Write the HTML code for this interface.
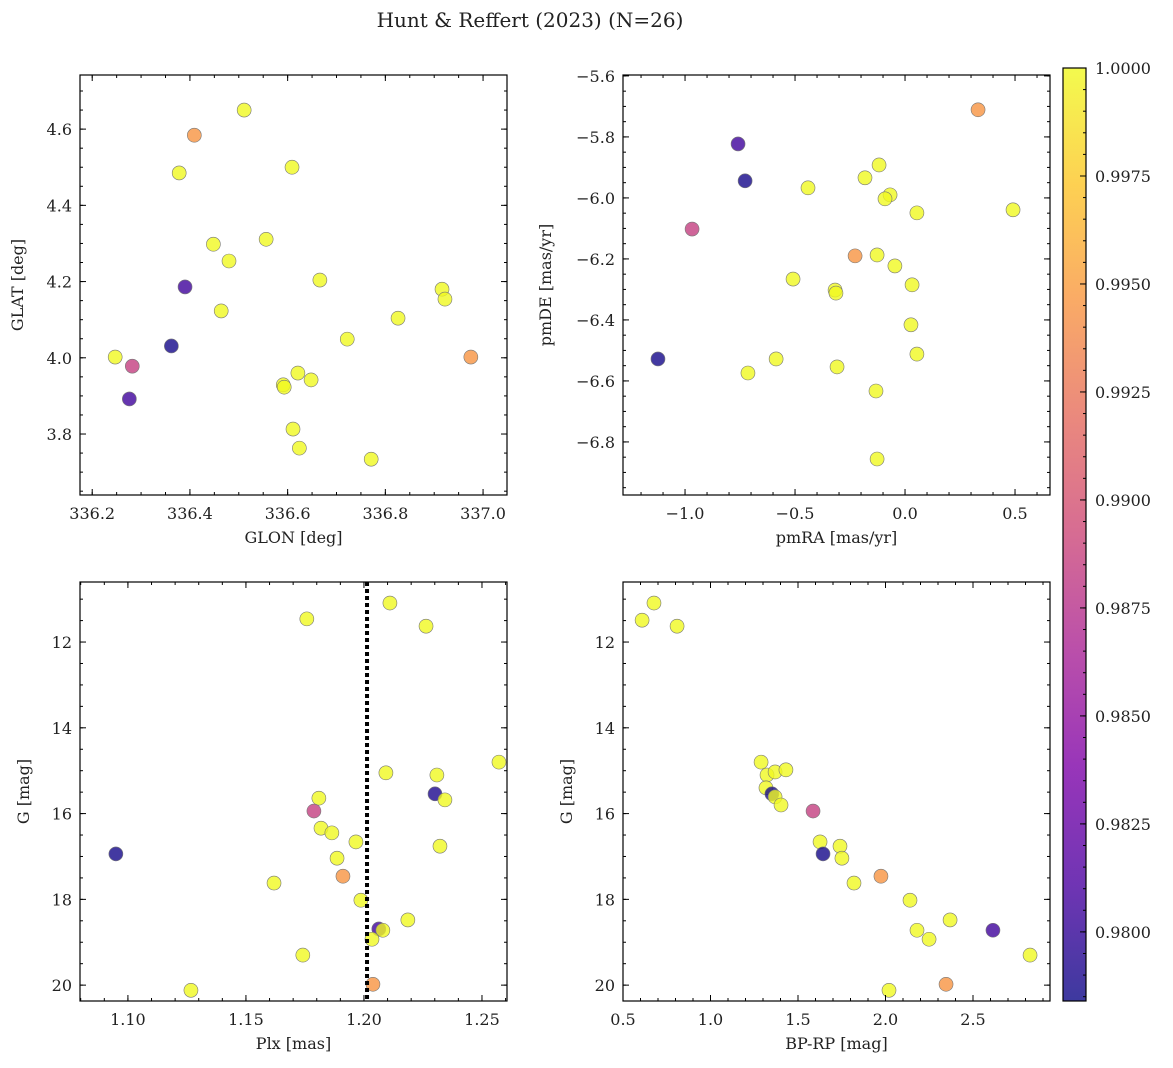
<!DOCTYPE html>
<html><head><meta charset="utf-8">
<style>
html,body{margin:0;padding:0;background:#fff;}
svg{display:block;font-family:"DejaVu Serif","Liberation Serif",serif;}
</style></head>
<body>
<svg id="fig" width="1173" height="1068" viewBox="0 0 1173 1068">
<text x="530" y="27" text-anchor="middle" font-size="20" fill="#222">Hunt &amp; Reffert (2023) (N=26)</text>
<defs>
<linearGradient id="plasma" x1="0" y1="1" x2="0" y2="0">
<stop offset="0" stop-color="#0d0887"/><stop offset="0.125" stop-color="#4c02a1"/><stop offset="0.25" stop-color="#7e03a8"/><stop offset="0.375" stop-color="#a92395"/><stop offset="0.5" stop-color="#cc4778"/><stop offset="0.625" stop-color="#e56b5d"/><stop offset="0.75" stop-color="#f89540"/><stop offset="0.875" stop-color="#fdc527"/><stop offset="1" stop-color="#f0f921"/>
</linearGradient>
</defs>
</svg>
<script>
// ---- data ----
const p1_glon=[336.511,336.409,336.378,336.609,336.448,336.480,336.556,336.390,336.666,336.464,336.916,336.922,336.826,336.722,336.362,336.247,336.975,336.282,336.621,336.591,336.593,336.648,336.276,336.611,336.624,336.771];
const p1_glat=[4.650,4.584,4.485,4.500,4.298,4.254,4.311,4.186,4.204,4.123,4.180,4.154,4.104,4.049,4.031,4.002,4.002,3.978,3.960,3.929,3.923,3.942,3.892,3.813,3.763,3.734];
const p1_prob=[1,0.9945,1,1,1,1,1,0.9805,1,1,1,1,1,1,0.9787,1,0.9945,0.9885,1,1,1,1,0.9805,1,1,1];
const p2_pmra=[0.332,-0.759,-0.727,-0.118,-0.182,-0.441,-0.068,-0.091,0.491,0.054,-0.968,-0.227,-0.127,-0.046,-0.509,0.032,-0.318,-0.314,0.027,0.054,-0.586,-1.123,-0.714,-0.309,-0.132,-0.127];
const p2_pmde=[-5.711,-5.823,-5.944,-5.892,-5.934,-5.967,-5.990,-6.003,-6.039,-6.049,-6.102,-6.190,-6.187,-6.223,-6.266,-6.285,-6.302,-6.312,-6.416,-6.512,-6.528,-6.528,-6.574,-6.554,-6.633,-6.856];
const p2_prob=[0.9945,0.9805,0.9787,1,1,1,1,1,1,1,0.9885,0.9945,1,1,1,1,1,1,1,1,1,0.9787,1,1,1,1];
const p3_plx=[1.2110,1.1758,1.2263,1.1809,1.2093,1.2309,1.2572,1.1818,1.1864,1.2301,1.2343,1.1788,1.1966,1.1886,1.2322,1.0949,1.1911,1.1619,1.1987,1.2186,1.2063,1.2080,1.2034,1.1741,1.2038,1.1267];
const p3_g=[11.09,11.46,11.63,15.64,15.05,15.10,14.80,16.34,16.45,15.54,15.68,15.94,16.66,17.04,16.76,16.94,17.46,17.62,18.02,18.48,18.69,18.72,18.93,19.30,19.98,20.12];
const p3_prob=[1,1,1,1,1,1,1,1,1,0.9790,1,0.9885,1,1,1,0.9787,0.9945,1,1,1,0.9805,1,1,1,0.9945,1];
const p4_bprp=[0.609,0.677,0.809,1.289,1.323,1.369,1.431,1.317,1.351,1.369,1.403,1.586,1.626,1.740,1.751,1.643,1.820,1.974,2.140,2.180,2.369,2.249,2.614,2.826,2.346,2.020];
const p4_g=[11.49,11.09,11.63,14.80,15.10,15.03,14.98,15.40,15.54,15.61,15.80,15.94,16.66,16.76,17.04,16.94,17.62,17.46,18.02,18.72,18.48,18.93,18.72,19.30,19.98,20.12];
const p4_prob=[1,1,1,1,1,1,1,1,0.9787,1,1,0.9885,1,1,1,0.9787,1,0.9945,1,1,1,1,0.9805,1,0.9945,1];
const cbar_ticks=[0.9800,0.9825,0.9850,0.9875,0.9900,0.9925,0.9950,0.9975,1.0000];
const plxLine=1.2013;
const cmin=0.9784,cmax=1.0;

const NS="http://www.w3.org/2000/svg";
const svg=document.getElementById('fig');
function mk(tag,attrs,parent){const e=document.createElementNS(NS,tag);for(const k in attrs)e.setAttribute(k,attrs[k]);(parent||svg).appendChild(e);return e;}
const stops=[[13,8,135],[76,2,161],[126,3,168],[169,35,149],[204,71,120],[229,107,93],[248,149,64],[253,197,39],[240,249,33]];
function plasma(v){let t=(v-cmin)/(cmax-cmin);t=Math.max(0,Math.min(1,t));const s=t*8,i=Math.min(7,Math.floor(s)),f=s-i;const a=stops[i],b=stops[i+1];return 'rgb('+a.map((c,k)=>Math.round(c+(b[k]-c)*f)).join(',')+')';}
function fmt(v,d){const s=v.toFixed(d);return s.replace('-','\u2212');}

function panel(cfg){
  const g=mk('g',{});
  
  
  const {L,T,R,B,xmin,xmax,ymin,ymax,inv}=cfg;
  const sx=v=>L+(v-xmin)/(xmax-xmin)*(R-L);
  const sy=inv?(v=>T+(v-ymin)/(ymax-ymin)*(B-T)):(v=>B-(v-ymin)/(ymax-ymin)*(B-T));
  // points
  const pts=mk('g',{},g);
  
  
  for(let i=0;i<cfg.xs.length;i++){
    const c=mk('circle',{cx:sx(cfg.xs[i]),cy:sy(cfg.ys[i]),r:7,fill:plasma(cfg.ps[i]),'fill-opacity':0.8,stroke:'#777','stroke-width':0.6},pts);
    
    
  }
  if(cfg.extra)cfg.extra(g,sx,sy);
  // frame
  const f=mk('rect',{x:L,y:T,width:R-L,height:B-T,fill:'none',stroke:'#000','stroke-width':1.2},g);
  
  
  // ticks
  const tk=mk('g',{stroke:'#000','stroke-width':1},g);
  
  
  const eps=1e-9;
  for(let v=Math.ceil(xmin/cfg.xmin_step-eps)*cfg.xmin_step;v<=xmax+eps;v+=cfg.xmin_step){
    const x=sx(v);mk('line',{x1:x,x2:x,y1:B,y2:B-3},tk);mk('line',{x1:x,x2:x,y1:T,y2:T+3},tk);}
  for(let v=Math.ceil(ymin/cfg.ymin_step-eps)*cfg.ymin_step;v<=ymax+eps;v+=cfg.ymin_step){
    const y=sy(v);mk('line',{x1:L,x2:L+3,y1:y,y2:y},tk);mk('line',{x1:R,x2:R-3,y1:y,y2:y},tk);}
  cfg.xt.forEach(v=>{const x=sx(v);mk('line',{x1:x,x2:x,y1:B,y2:B-6},tk);mk('line',{x1:x,x2:x,y1:T,y2:T+6},tk);
    const t=mk('text',{x:x,y:B+24,'text-anchor':'middle','font-size':16,fill:'#222',stroke:'none'},g);t.textContent=fmt(v,cfg.xd);
    
    });
  cfg.yt.forEach(v=>{const y=sy(v);mk('line',{x1:L,x2:L+6,y1:y,y2:y},tk);mk('line',{x1:R,x2:R-6,y1:y,y2:y},tk);
    const t=mk('text',{x:L-8,y:y+6,'text-anchor':'end','font-size':16,fill:'#222',stroke:'none'},g);t.textContent=fmt(v,cfg.yd);
    
    });
  const xl=mk('text',{x:(L+R)/2,y:B+48,'text-anchor':'middle','font-size':16,fill:'#222'},g);xl.textContent=cfg.xlabel;
  
  
  const yx=cfg.ylx,yy=(T+B)/2;
  const yl=mk('text',{x:yx,y:yy,'text-anchor':'middle','font-size':16,fill:'#222',transform:'rotate(-90 '+yx+' '+yy+')'},g);yl.textContent=cfg.ylabel;
  
  
}
function range(a,b,s){const r=[];for(let v=a;v<=b+1e-9;v+=s)r.push(Math.round(v*1e6)/1e6);return r;}

panel({name:'glon-glat-panel',L:80,T:75,R:507,B:495,xmin:336.175,xmax:337.049,ymin:3.640,ymax:4.742,xs:p1_glon,ys:p1_glat,ps:p1_prob,
  xt:range(336.2,337.0,0.2),yt:range(3.8,4.6,0.2),xd:1,yd:1,xmin_step:0.05,ymin_step:0.05,xlabel:'GLON [deg]',ylabel:'GLAT [deg]',ylx:23});
panel({name:'proper-motion-panel',L:623,T:75,R:1050,B:495,xmin:-1.282,xmax:0.659,ymin:-6.974,ymax:-5.597,xs:p2_pmra,ys:p2_pmde,ps:p2_prob,
  xt:range(-1.0,0.5,0.5),yt:range(-6.8,-5.6,0.2),xd:1,yd:1,xmin_step:0.1,ymin_step:0.05,xlabel:'pmRA [mas/yr]',ylabel:'pmDE [mas/yr]',ylx:551});
panel({name:'parallax-magnitude-panel',L:80,T:582,R:507,B:1001,xmin:1.0797,xmax:1.2606,ymin:10.60,ymax:20.37,inv:true,xs:p3_plx,ys:p3_g,ps:p3_prob,
  xt:range(1.10,1.25,0.05),yt:range(12,20,2),xd:2,yd:0,xmin_step:0.01,ymin_step:0.5,xlabel:'Plx [mas]',ylabel:'G [mag]',ylx:29,
  extra:(g,sx,sy)=>{const l=mk('line',{x1:sx(plxLine),x2:sx(plxLine),y1:582,y2:1001,stroke:'#000','stroke-width':4,'stroke-dasharray':'4,3'},g);
    
    }});
panel({name:'color-magnitude-panel',L:623,T:582,R:1050,B:1001,xmin:0.5,xmax:2.94,ymin:10.60,ymax:20.37,inv:true,xs:p4_bprp,ys:p4_g,ps:p4_prob,
  xt:range(0.5,2.5,0.5),yt:range(12,20,2),xd:1,yd:0,xmin_step:0.1,ymin_step:0.5,xlabel:'BP-RP [mag]',ylabel:'G [mag]',ylx:572});

// colorbar
const cb=mk('g',{});


const cT=68,cB=1001,cL=1063,cR=1086;
mk('rect',{x:cL,y:cT,width:cR-cL,height:cB-cT,fill:'url(#plasma)','fill-opacity':0.8},cb);
mk('rect',{x:cL,y:cT,width:cR-cL,height:cB-cT,fill:'none',stroke:'#000','stroke-width':1.2},cb);
const cy=v=>cB-(v-cmin)/(cmax-cmin)*(cB-cT);
for(let v=0.9785;v<=1.00001;v+=0.0005){const y=cy(v);mk('line',{x1:cR,x2:cR-3,y1:y,y2:y,stroke:'#000'},cb);}
cbar_ticks.forEach(v=>{const y=cy(v);mk('line',{x1:cR,x2:cR-6,y1:y,y2:y,stroke:'#000'},cb);
  const t=mk('text',{x:cR+9,y:y+6,'font-size':16,fill:'#222'},cb);t.textContent=v.toFixed(4);
  
  });
</script>
</body></html>
